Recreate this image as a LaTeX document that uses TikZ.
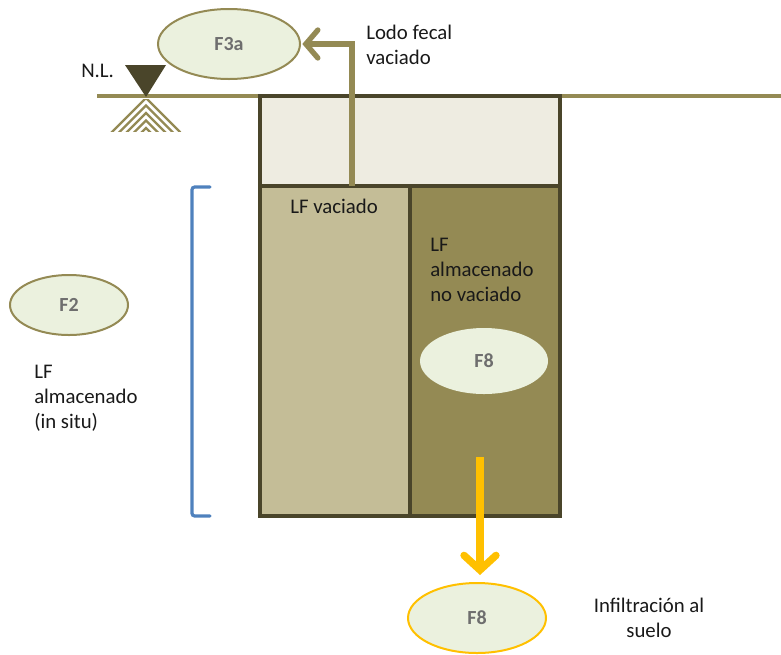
\documentclass[tikz,border=0pt]{standalone}
\usepackage{fontspec}
\setmainfont{Carlito}
\usetikzlibrary{arrows.meta,shapes.geometric}
\definecolor{olive}{HTML}{948A54}
\definecolor{darkolive}{HTML}{4A452A}
\definecolor{tankTop}{HTML}{EEECE1}
\definecolor{tankLeft}{HTML}{C4BD97}
\definecolor{tankRight}{HTML}{948A54}
\definecolor{bubble}{HTML}{EBF1DE}
\definecolor{gold}{HTML}{FFC000}
\definecolor{bracketblue}{HTML}{4F81BD}
\definecolor{labelgray}{HTML}{6E6E6E}
\begin{document}
\begin{tikzpicture}[x=0.75pt,y=-0.75pt,
  txt/.style={font=\fontsize{15.6pt}{18.75pt}\selectfont, inner sep=0pt, align=left, text=black!90},
  fnode/.style={ellipse, minimum width=#1, fill=bubble, font=\fontsize{15pt}{18pt}\selectfont\bfseries, text=labelgray, inner sep=0pt},
  tankwall/.style={draw=darkolive, line width=2.4pt},
]
\useasboundingbox (0,0) rectangle (781,654);

% ground level line
\draw[olive, line width=3pt] (97,96) -- (781,96);

% hatched soil symbol below the level mark
\begin{scope}
  \clip (110,99) rectangle (181,131);
  \foreach \k in {0,...,6} {
    \draw[olive, line width=1.7pt] (96,{98+\k*7.5+50}) -- (146,{98+\k*7.5}) -- (196,{98+\k*7.5+50});
  }
\end{scope}
% level triangle
\fill[darkolive] (125,65) -- (166,65) -- (146,97) -- cycle;
\node[txt, anchor=base west] (nl) at (81,77) {N.L.};

% tank
\fill[tankTop] (260,96) rectangle (560,186);
\fill[tankLeft] (260,186) rectangle (410,516);
\fill[tankRight] (410,186) rectangle (560,516);
\draw[tankwall] (260,96) rectangle (560,516);
\draw[tankwall] (260,186) -- (560,186);
\draw[tankwall] (410,186) -- (410,516);

% ellipses
\node[fnode=106.5pt, minimum height=52.5pt, draw=olive, line width=1.5pt] (f3a) at (229,44) {F3a};
\node[fnode=88.5pt, minimum height=45pt, draw=olive, line width=1.5pt] (f2) at (69,305) {F2};
\node[fnode=96pt, minimum height=49.5pt] (f8in) at (484,361) {F8};
\node[fnode=103.5pt, minimum height=52.5pt, draw=gold, line width=1.5pt] (f8out) at (477,618) {F8};

% emptied sludge flow
\coordinate (src) at (352,186);
\coordinate (bend) at (352,44);
\draw[olive, line width=4pt, -{Straight Barb[length=9pt, width=21pt, line width=4pt, line cap=round]}]
  (src) -- (bend) -- ([xshift=1pt]f3a.east);

% infiltration flow
\coordinate (infstart) at (480,457);
\coordinate (infend) at (480,575);
\draw[gold, line width=5.5pt, -{Straight Barb[length=11pt, width=24pt, line width=5.5pt, line cap=round]}]
  (infstart) -- (infend);

% in-situ bracket
\coordinate (bt) at (210,187);
\coordinate (bb) at (210,516);
\draw[bracketblue, line width=2.4pt, line cap=round, rounded corners=2pt]
  (bt) -- (192,187) -- (192,516) -- (bb);

% texts (anchored at the baseline of their last line)
\node[txt, anchor=base west] (lodo) at (366,64) {Lodo fecal\\vaciado};
\node[txt, anchor=base west] (lfv) at (290,213) {LF vaciado};
\node[txt, anchor=base west] (lfnv) at (430,301) {LF\\almacenado\\no vaciado};
\node[txt, anchor=base west] (lfis) at (34,428) {LF\\almacenado\\(in situ)};
\node[txt, anchor=base, align=center] (infil) at (649,637) {Infiltración al\\suelo};
\end{tikzpicture}
\end{document}
